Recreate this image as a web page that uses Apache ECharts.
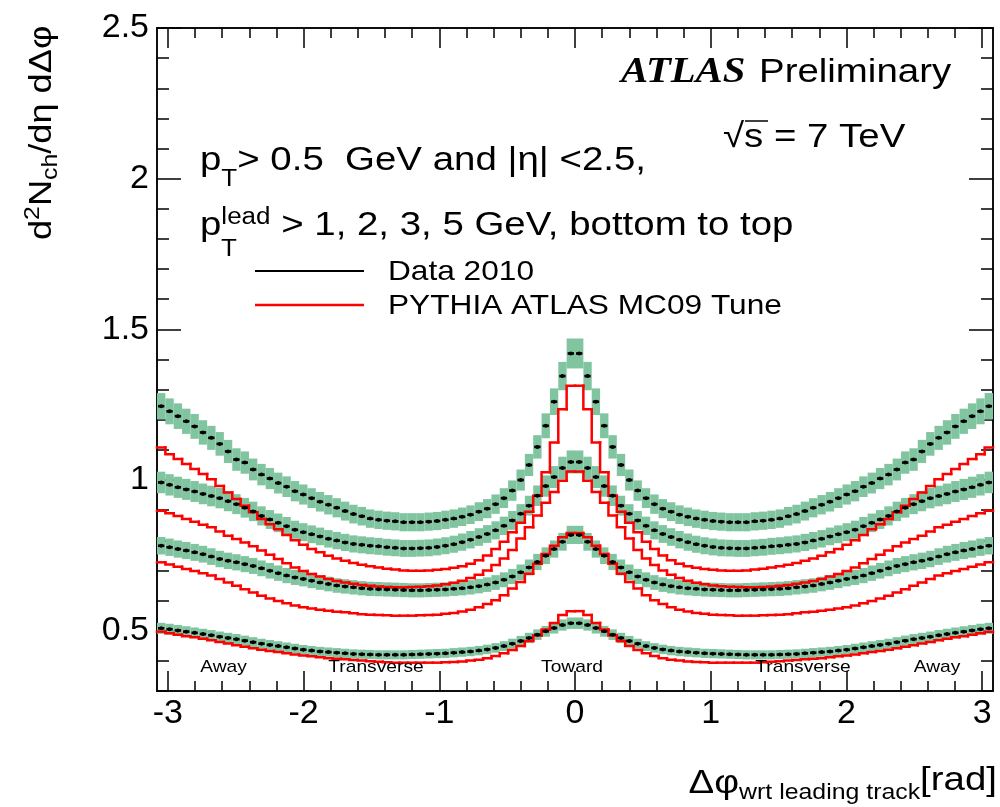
<!DOCTYPE html>
<html><head><meta charset="utf-8">
<script src="https://cdn.jsdelivr.net/npm/echarts@6/dist/echarts.min.js"></script>
<style>html,body{margin:0;padding:0;background:#fff}#c{width:1000px;height:807px}</style>
</head><body><div id="c"></div>
<script>
// ---- axis ranges / ticks ----
const X_MIN = -3.08, X_MAX = 3.08, N_BINS = 100;
const Y_MIN = 0.3, Y_MAX = 2.5;
const X_TICKS = [-3, -2, -1, 0, 1, 2, 3];
const X_TICK_LABELS = ['-3', '-2', '-1', '0', '1', '2', '3'];
const Y_TICKS = [0.5, 1, 1.5, 2, 2.5];
const Y_TICK_LABELS = ['0.5', '1', '1.5', '2', '2.5'];

// ---- data 2010 (100 bins in delta phi, left to right) ----
const DATA_PT1 = [0.508,0.505,0.501,0.497,0.493,0.489,0.485,0.48,0.476,0.472,0.467,0.462,0.457,0.453,0.449,0.445,0.441,0.437,0.434,0.431,0.429,0.427,0.425,0.423,0.422,0.421,0.42,0.42,0.42,0.42,0.421,0.422,0.423,0.424,0.425,0.427,0.429,0.431,0.434,0.438,0.443,0.449,0.457,0.466,0.476,0.487,0.498,0.509,0.519,0.525,
0.525,0.519,0.509,0.498,0.487,0.476,0.466,0.457,0.449,0.443,0.438,0.434,0.431,0.429,0.427,0.425,0.424,0.423,0.422,0.421,0.42,0.42,0.42,0.42,0.421,0.422,0.423,0.425,0.427,0.429,0.431,0.434,0.437,0.441,0.445,0.449,0.453,0.457,0.462,0.467,0.472,0.476,0.48,0.485,0.489,0.493,0.497,0.501,0.505,0.508];
const DATA_PT2 = [0.782,0.777,0.771,0.766,0.76,0.754,0.746,0.738,0.732,0.727,0.721,0.715,0.707,0.699,0.691,0.683,0.677,0.672,0.666,0.66,0.655,0.65,0.647,0.644,0.641,0.639,0.638,0.637,0.636,0.635,0.634,0.634,0.635,0.636,0.637,0.639,0.641,0.644,0.648,0.653,0.66,0.669,0.68,0.694,0.71,0.728,0.749,0.771,0.795,0.818,
0.818,0.795,0.771,0.749,0.728,0.71,0.694,0.68,0.669,0.66,0.653,0.648,0.644,0.641,0.639,0.637,0.636,0.635,0.634,0.634,0.635,0.636,0.637,0.638,0.639,0.641,0.644,0.647,0.65,0.655,0.66,0.666,0.672,0.677,0.683,0.691,0.699,0.707,0.715,0.721,0.727,0.732,0.738,0.746,0.754,0.76,0.766,0.771,0.777,0.782];
const DATA_PT3 = [0.992,0.984,0.976,0.969,0.962,0.954,0.947,0.94,0.93,0.92,0.908,0.896,0.881,0.869,0.858,0.847,0.835,0.827,0.82,0.813,0.805,0.799,0.793,0.788,0.785,0.782,0.78,0.777,0.775,0.773,0.773,0.774,0.775,0.778,0.782,0.787,0.794,0.802,0.811,0.821,0.833,0.848,0.866,0.888,0.915,0.948,0.98,1.01,1.04,1.06,
1.06,1.04,1.01,0.98,0.948,0.915,0.888,0.866,0.848,0.833,0.821,0.811,0.802,0.794,0.787,0.782,0.778,0.775,0.774,0.773,0.773,0.775,0.777,0.78,0.782,0.785,0.788,0.793,0.799,0.805,0.813,0.82,0.827,0.835,0.847,0.858,0.869,0.881,0.896,0.908,0.92,0.93,0.94,0.947,0.954,0.962,0.969,0.976,0.984,0.992];
const DATA_PT5 = [1.245,1.228,1.212,1.195,1.178,1.158,1.14,1.12,1.095,1.068,1.058,1.035,1.018,1.005,0.99,0.978,0.963,0.952,0.94,0.928,0.918,0.908,0.897,0.887,0.88,0.872,0.868,0.865,0.863,0.86,0.86,0.86,0.862,0.864,0.868,0.872,0.878,0.885,0.895,0.905,0.92,0.94,0.965,1.0,1.05,1.11,1.18,1.26,1.345,1.42,
1.42,1.345,1.26,1.18,1.11,1.05,1.0,0.965,0.94,0.92,0.905,0.895,0.885,0.878,0.872,0.868,0.864,0.862,0.86,0.86,0.86,0.863,0.865,0.868,0.872,0.88,0.887,0.897,0.908,0.918,0.928,0.94,0.952,0.963,0.978,0.99,1.005,1.018,1.035,1.058,1.068,1.095,1.12,1.14,1.158,1.178,1.195,1.212,1.228,1.245];
// relative systematic uncertainty (green band half height) per data set
const SYST_FRAC = [0.036, 0.037, 0.036, 0.035];

// ---- PYTHIA ATLAS MC09 ----
const MC_PT1 = [0.497,0.492,0.487,0.482,0.478,0.473,0.468,0.463,0.458,0.452,0.447,0.442,0.437,0.433,0.429,0.425,0.421,0.418,0.415,0.412,0.409,0.407,0.405,0.403,0.401,0.399,0.397,0.395,0.394,0.394,0.394,0.394,0.394,0.394,0.395,0.396,0.398,0.401,0.404,0.409,0.416,0.425,0.436,0.449,0.466,0.484,0.504,0.526,0.552,0.565,
0.565,0.552,0.526,0.504,0.484,0.466,0.449,0.436,0.425,0.416,0.409,0.404,0.401,0.398,0.396,0.395,0.394,0.394,0.394,0.394,0.394,0.394,0.395,0.397,0.399,0.401,0.403,0.405,0.407,0.409,0.412,0.415,0.418,0.421,0.425,0.429,0.433,0.437,0.442,0.447,0.452,0.458,0.463,0.468,0.473,0.478,0.482,0.487,0.492,0.497];
const MC_PT2 = [0.727,0.72,0.712,0.705,0.698,0.691,0.683,0.672,0.66,0.649,0.638,0.627,0.616,0.607,0.599,0.591,0.584,0.578,0.574,0.57,0.566,0.563,0.561,0.558,0.555,0.553,0.552,0.551,0.55,0.55,0.55,0.551,0.552,0.553,0.556,0.559,0.564,0.57,0.578,0.589,0.601,0.618,0.64,0.662,0.689,0.722,0.755,0.782,0.81,0.824,
0.824,0.81,0.782,0.755,0.722,0.689,0.662,0.64,0.618,0.601,0.589,0.578,0.57,0.564,0.559,0.556,0.553,0.552,0.551,0.55,0.55,0.55,0.551,0.552,0.553,0.555,0.558,0.561,0.563,0.566,0.57,0.574,0.578,0.584,0.591,0.599,0.607,0.616,0.627,0.638,0.649,0.66,0.672,0.683,0.691,0.698,0.705,0.712,0.72,0.727];
const MC_PT3 = [0.898,0.89,0.881,0.871,0.862,0.852,0.843,0.829,0.815,0.804,0.793,0.78,0.766,0.752,0.738,0.724,0.71,0.698,0.688,0.68,0.672,0.665,0.66,0.656,0.652,0.649,0.647,0.645,0.644,0.644,0.645,0.646,0.648,0.65,0.654,0.659,0.666,0.675,0.686,0.7,0.718,0.74,0.768,0.806,0.843,0.882,0.925,0.96,0.998,1.028,
1.028,0.998,0.96,0.925,0.882,0.843,0.806,0.768,0.74,0.718,0.7,0.686,0.675,0.666,0.659,0.654,0.65,0.648,0.646,0.645,0.644,0.644,0.645,0.647,0.649,0.652,0.656,0.66,0.665,0.672,0.68,0.688,0.698,0.71,0.724,0.738,0.752,0.766,0.78,0.793,0.804,0.815,0.829,0.843,0.852,0.862,0.871,0.881,0.89,0.898];
const MC_PT5 = [1.108,1.086,1.07,1.053,1.037,1.02,1.003,0.98,0.959,0.937,0.915,0.893,0.871,0.853,0.837,0.818,0.8,0.785,0.771,0.76,0.749,0.74,0.732,0.725,0.719,0.714,0.71,0.706,0.703,0.7,0.699,0.699,0.7,0.702,0.705,0.709,0.714,0.722,0.734,0.75,0.771,0.795,0.827,0.858,0.895,0.948,1.026,1.125,1.235,1.313,
1.313,1.235,1.125,1.026,0.948,0.895,0.858,0.827,0.795,0.771,0.75,0.734,0.722,0.714,0.709,0.705,0.702,0.7,0.699,0.699,0.7,0.703,0.706,0.71,0.714,0.719,0.725,0.732,0.74,0.749,0.76,0.771,0.785,0.8,0.818,0.837,0.853,0.871,0.893,0.915,0.937,0.959,0.98,1.003,1.02,1.037,1.053,1.07,1.086,1.108];

const REGION_LABELS = ['Away', 'Transverse', 'Toward', 'Transverse', 'Away'];

// ---- styling ----
const BW = (X_MAX - X_MIN) / N_BINS;
const GREEN = 'rgb(128,196,160)';
const RED = '#ff0000';
const FONT = 'Liberation Sans';
const SX = 1.13;

const X_MINOR = []; for (let k = -15; k <= 15; k++) X_MINOR.push(+(k * 0.2).toFixed(1));
const Y_MINOR = []; for (let k = 3; k <= 25; k++) Y_MINOR.push(+(k * 0.1).toFixed(1));

function lookup(ticks, labels, v) {
  const i = ticks.findIndex(t => Math.abs(t - v) < 1e-6);
  return i >= 0 ? labels[i] : '';
}
const AX_LINE = { color: '#000', width: 1.5 };
function xAx(pos, ticks, len, withLabels) {
  return {
    type: 'value', position: pos, min: X_MIN, max: X_MAX,
    axisLine: { show: true, onZero: false, lineStyle: AX_LINE },
    axisTick: { show: true, inside: true, length: len, customValues: ticks, lineStyle: AX_LINE },
    axisLabel: withLabels ? { show: true, customValues: ticks, formatter: v => lookup(X_TICKS, X_TICK_LABELS, v),
      fontSize: 34, fontFamily: FONT, color: '#000', margin: 6 } : { show: false },
    splitLine: { show: false }, minorTick: { show: false }
  };
}
function yAx(pos, ticks, len, withLabels) {
  return {
    type: 'value', position: pos, min: Y_MIN, max: Y_MAX,
    axisLine: { show: true, onZero: false, lineStyle: AX_LINE },
    axisTick: { show: true, inside: true, length: len, customValues: ticks, lineStyle: AX_LINE },
    axisLabel: withLabels ? { show: true, customValues: ticks, formatter: v => lookup(Y_TICKS, Y_TICK_LABELS, v),
      fontSize: 34, fontFamily: FONT, color: '#000', margin: 8 } : { show: false },
    splitLine: { show: false }, minorTick: { show: false }
  };
}
function binData(vals) { return vals.map((v, i) => [X_MIN + (i + 0.5) * BW, v]); }

function bandSeries(vals, frac) {
  return {
    type: 'custom', xAxisIndex: 0, yAxisIndex: 0, silent: true, z: 2, data: binData(vals),
    renderItem: (params, api) => {
      const xc = api.value(0), v = api.value(1);
      const p1 = api.coord([xc - BW / 2, v * (1 + frac)]);
      const p2 = api.coord([xc + BW / 2, v * (1 - frac)]);
      return { type: 'rect', shape: { x: p1[0], y: p1[1], width: p2[0] - p1[0], height: p2[1] - p1[1] },
        style: { fill: GREEN } };
    }
  };
}
function stepSeries(vals) {
  return {
    type: 'custom', xAxisIndex: 0, yAxisIndex: 0, silent: true, z: 3, data: binData(vals),
    renderItem: (params, api) => {
      const i = params.dataIndex, xc = api.value(0), v = api.value(1);
      const pts = [];
      if (i > 0) pts.push(api.coord([xc - BW / 2, vals[i - 1]]));
      pts.push(api.coord([xc - BW / 2, v]), api.coord([xc + BW / 2, v]));
      return { type: 'polyline', shape: { points: pts },
        style: { stroke: RED, lineWidth: 2.5, fill: null, lineCap: 'square', lineJoin: 'miter' } };
    }
  };
}
function pointSeries(vals) {
  return {
    type: 'custom', xAxisIndex: 0, yAxisIndex: 0, silent: true, z: 4, data: binData(vals),
    renderItem: (params, api) => {
      const xc = api.value(0), v = api.value(1);
      const a = api.coord([xc - BW / 2, v]), b = api.coord([xc + BW / 2, v]);
      return { type: 'group', children: [
        { type: 'rect', shape: { x: a[0] + 1, y: a[1] - 1.3, width: b[0] - a[0] - 2, height: 2.6 }, style: { fill: '#000' } },
        { type: 'circle', shape: { cx: (a[0] + b[0]) / 2, cy: a[1], r: 2 }, style: { fill: '#000' } }
      ] };
    }
  };
}

function T(x, y, text, o) {
  o = o || {};
  const st = { text: text, fontSize: o.fs || 34, fontFamily: o.ff || FONT, fontWeight: o.fw || 'normal',
    fontStyle: o.fst || 'normal', fill: '#000', textAlign: o.align || 'left', align: o.align || 'left',
    textVerticalAlign: 'middle', verticalAlign: 'middle' };
  if (o.rich) st.rich = o.rich;
  return { type: 'text', x: x, y: y, rotation: o.rot || 0, scaleX: o.sx || SX, scaleY: 1, z: 100, silent: true, style: st };
}

const DATA_SETS = [DATA_PT1, DATA_PT2, DATA_PT3, DATA_PT5];
const MC_SETS = [MC_PT1, MC_PT2, MC_PT3, MC_PT5];

const option = {
  animation: false,
  backgroundColor: '#fff',
  grid: { left: 157, right: 7, top: 28, bottom: 116, containLabel: false, outerBoundsMode: 'none' },
  xAxis: [xAx('bottom', X_TICKS, 20, true), xAx('bottom', X_MINOR, 10, false),
          xAx('top', X_TICKS, 20, false), xAx('top', X_MINOR, 10, false)],
  yAxis: [yAx('left', Y_TICKS, 24, true), yAx('left', Y_MINOR, 12, false),
          yAx('right', Y_TICKS, 24, false), yAx('right', Y_MINOR, 12, false)],
  series: [].concat(
    DATA_SETS.map((vals, s) => bandSeries(vals, SYST_FRAC[s])),
    MC_SETS.map(stepSeries),
    DATA_SETS.map(pointSeries)
  ),
  graphic: [
    T(621, 73, 'ATLAS', { fs: 36, ff: 'Liberation Serif', fw: 'bold', fst: 'italic' }),
    T(759, 73, 'Preliminary', { fs: 34 }),
    T(723, 138, '√s = 7 TeV', { fs: 34 }),
    { type: 'line', shape: { x1: 745, y1: 121, x2: 768, y2: 121 }, style: { stroke: '#000', lineWidth: 1.5 }, z: 100 },
    T(200, 161, '{m|p}{sub|T}{m|> 0.5  GeV and |η| <2.5,}', { rich: {
      m: { fontSize: 34, fontFamily: FONT, lineHeight: 60, fill: '#000' },
      sub: { fontSize: 23, fontFamily: FONT, lineHeight: 8, verticalAlign: 'bottom', fill: '#000' } } }),
    T(200, 226, '{m|p}{sup|lead}{m| > 1, 2, 3, 5 GeV, bottom to top}', { rich: {
      m: { fontSize: 34, fontFamily: FONT, lineHeight: 40, fill: '#000' },
      sup: { fontSize: 23, fontFamily: FONT, lineHeight: 22, verticalAlign: 'top', fill: '#000' } } }),
    T(221, 250, 'T', { fs: 23 }),
    { type: 'line', shape: { x1: 255, y1: 271, x2: 364, y2: 271 }, style: { stroke: '#000', lineWidth: 2 }, z: 100 },
    { type: 'line', shape: { x1: 255, y1: 305, x2: 364, y2: 305 }, style: { stroke: RED, lineWidth: 2.5 }, z: 100 },
    T(388, 272, 'Data 2010', { fs: 28 }),
    T(388, 306, 'PYTHIA ATLAS MC09 Tune', { fs: 28 }),
    T(223.5, 667, REGION_LABELS[0], { fs: 17, align: 'center' }),
    T(376, 667, REGION_LABELS[1], { fs: 17, align: 'center' }),
    T(572, 667, REGION_LABELS[2], { fs: 17, align: 'center' }),
    T(803, 667, REGION_LABELS[3], { fs: 17, align: 'center' }),
    T(937, 667, REGION_LABELS[4], { fs: 17, align: 'center' }),
    T(997, 784, '{m|Δφ}{sub|wrt leading track}{br|[rad]}', { align: 'right', rich: {
      m: { fontSize: 34, fontFamily: FONT, lineHeight: 40, fill: '#000' },
      sub: { fontSize: 22, fontFamily: FONT, lineHeight: 18, verticalAlign: 'bottom', fill: '#000' },
      br: { fontSize: 34, fontFamily: FONT, lineHeight: 30, verticalAlign: 'top', fill: '#000' } } }),
    T(42, 240, '{m|d}{sup|2}{m|N}{sub|ch}{m|/dη dΔφ}', { rot: Math.PI / 2, rich: {
      m: { fontSize: 32, fontFamily: FONT, lineHeight: 40, fill: '#000' },
      sup: { fontSize: 22, fontFamily: FONT, lineHeight: 10, verticalAlign: 'top', fill: '#000' },
      sub: { fontSize: 22, fontFamily: FONT, lineHeight: 14, verticalAlign: 'bottom', fill: '#000' } } })
  ]
};
const chart = echarts.init(document.getElementById('c'), null, { renderer: 'canvas' });
chart.setOption(option);
</script></body></html>
